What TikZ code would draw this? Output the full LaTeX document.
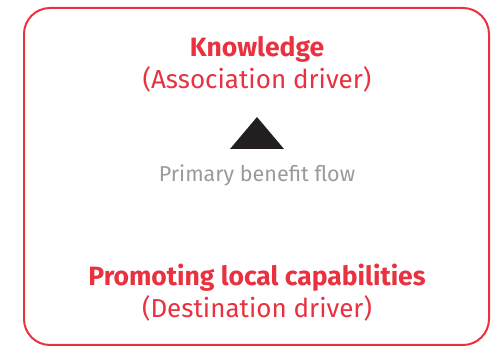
\documentclass[tikz,border=0pt]{standalone}
\usepackage{fontspec}
\setmainfont{Fira Sans}
\definecolor{cred}{HTML}{E8323F}
\definecolor{cgray}{HTML}{9A9A9A}
\definecolor{cdark}{HTML}{231F20}
\begin{document}
\begin{tikzpicture}[x=1pt,y=-1pt,
  title/.style={text=cred,font=\fontsize{26.5}{30}\selectfont\bfseries,anchor=base,inner sep=0pt},
  sub/.style={text=cred,font=\fontsize{26}{30}\selectfont,anchor=base,inner sep=0pt},
  flow/.style={text=cgray,font=\fontsize{21.5}{26}\selectfont,anchor=base,inner sep=0pt}]
\useasboundingbox (0,0) rectangle (491,347);
\draw[cred,line width=2pt,rounded corners=26pt] (24,8) rectangle (489,345);
\node[title] (k) at (257,57) {Knowledge};
\node[sub] (a) at (257,89) {(Association driver)};
\fill[cdark] (230,149) -- (257,117) -- (284,149) -- cycle;
\node[flow] (f) at (257,182) {Primary benefit flow};
\node[title] (p) at (257,286) {Promoting local capabilities};
\node[sub] (d) at (257,318) {(Destination driver)};
\end{tikzpicture}
\end{document}
